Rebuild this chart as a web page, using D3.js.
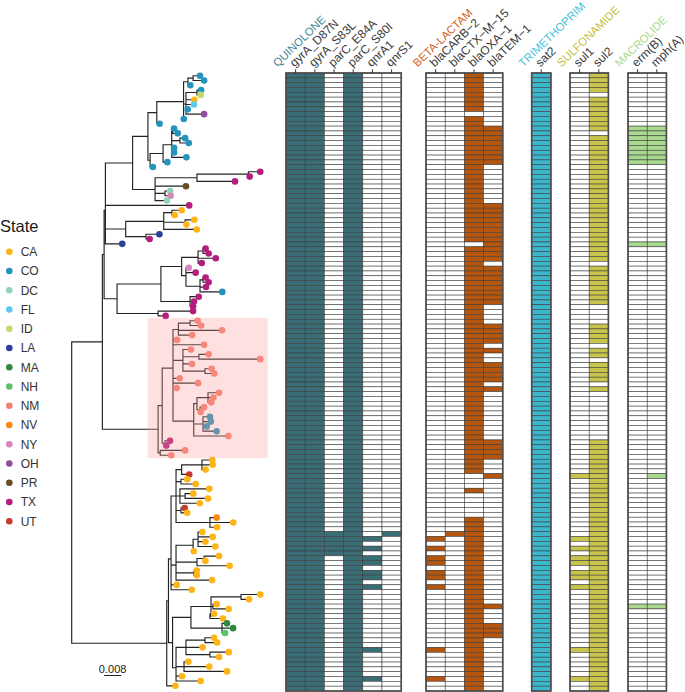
<!DOCTYPE html>
<html><head><meta charset="utf-8">
<script src="https://cdn.jsdelivr.net/npm/d3@7"></script>
<style>body{margin:0;background:#fff;} text{font-family:"Liberation Sans",Arial,Helvetica,sans-serif;}</style>
</head><body><svg id="c" width="685" height="692"></svg>
<script>
// ---------------- DATA ----------------
// Phylogeny; number after ':' = divergence from root (x 10^-3 substitutions/site)
const treeNewick = `
(
 (
  (
   (
    (
     (
      (
       (
        ((:59.4,:61.3):56.2,:54.9):53.8,
        ((:59.9,:59.7):58.0,:56.8,:56.6,:53.7,:61.3):52.9,
        :51.9
       ):51.8,
       :40.7
      ):39.4,
      ((((:47.4,:49.1):46.7,(:52.5,:54.2):50.1,(:47.4,:47.4):46.7,:53.1):46.3,:44.3):42.3,:37.6):36.3
     ):35.3,
     (((:87.3,:82.4):81.8,:75.6):58.0,:52.9,(:45.6,:45.8):43.2,:44.1):38.6
    ):28.2,
    :54.4,
    (((:50.9,:47.7):46.4,(:56.8,:53.1):52.5,:57.9):42.6,(:40.6,:36.1):34.4):25.0,
    :23.4
   ):15.6,
   (
    (
     (
      ((:62.0,:63.4):60.8,:66.7,:60.2):58.5,
      (:54.2,:57.4,((:62.0,:63.4):60.8,:62.2,:69.7):59.4):52.9
     ):50.9,
     (:58.8,:56.6,:56.2):54.8
    ):41.3,
    (:56.2,:43.5):40.0
   ):21.0
  ):15.0,
  (
   (
    (
     ((:58.3,:59.9):54.8,:69.6,:55.8):49.4,
     :48.8,:61.3,
     (:55.2,(:63.4,:87.3):58.9,:55.7,(:64.8,:66.0):61.7):51.5,
     :50.0,:58.5,:48.6,
     (((:68.2,:65.6,:64.6):63.1,(:61.3,:59.7):59.4):58.0,(:64.0,:64.4,:62.5,:67.1):60.8,:72.5):56.5
    ):46.9,
    (:45.5,:43.8):43.2
   ):41.9,
   (:52.5,:46.1):41.0
  ):40.0
 ):14.2,
 (
  (
   (
    (
     ((:65.1,:65.3,:62.0):60.3,:54.4):50.9,
     (:53.5,:57.4):50.6,
     (:63.7,(:56.3,:63.1):52.5,:59.3):50.1,
     (:52.3,:53.5):50.6,
     (:67.1,:74.8,:67.3):64.0
    ):48.3,
    (
     ((:60.5,:65.3,:61.9,:66.5):58.5,:56.5):56.2,
     ((:68.2,:61.9):61.3,:73.1):58.0,
     (:57.9,:57.9):56.6,
     :65.0
    ):48.3,
    :48.6,:55.6
   ):46.0,
   (
    (
     ((:87.3,:82.1):78.4,(:67.1,:72.7):65.4,(:65.9,:70.0):64.0):64.5,
     (:71.9,:74.7,:71.0):69.6
    ):55.2,
    (
     ((:65.9,:67.3):61.7,:60.6,(:72.7,:68.2):64.0):52.9,
     (:54.0,:63.7,:71.9):52.0,
     :51.1,:59.7
    ):48.3
   ):46.7
  ):44.8,
  :48.0
 ):44.0
):0;`;

// tip states in tree order (run-length: state, count)
const tipStateRuns = [
 ["CO",4],["ID",1],["CA",1],["FL",1],["CO",1],["OH",1],["CO",11],
 ["TX",3],["PR",1],["DC",1],["NY",1],["DC",1],["TX",1],
 ["CA",5],["LA",1],["TX",1],["LA",1],
 ["TX",4],["NY",1],["TX",4],["CO",1],["TX",5],
 ["NM",20],["CO",4],["NM",1],["TX",2],["NM",2],
 ["CA",3],["UT",1],["CA",6],["UT",1],["CA",1],["NV",1],["CA",21],["MA",2],["NH",1],["CA",11]
];

const stateNames  = ["CA","CO","DC","FL","ID","LA","MA","NH","NM","NV","NY","OH","PR","TX","UT"];
const stateColors = ["#FDB515","#2594BC","#8FD4B5","#5CCAF0","#C5DA6E","#2C3F9D","#2E8A3E","#5EC171","#F5806F","#F88B14","#D886BC","#8E4E9F","#6A4A1F","#B31E7D","#C23A2C"];

const highlightRows = [51, 79];   // NM clade
const scaleBarValue = 0.008;

// heatmap
const groupNames  = ["QUINOLONE","BETA-LACTAM","TRIMETHOPRIM","SULFONAMIDE","MACROLIDE"];
const groupFills  = ["#3A6E77","#B5560F","#3BB6CD","#C9C54C","#A9D98E"];
const groupTitleColors = ["#3E8591","#D0621C","#40C2DA","#C2BE3C","#A6DA8A"];
const groupGenes  = [
 ["gyrA_D87N","gyrA_S83L","parC_E84A","parC_S80I","qnrA1","qnrS1"],
 ["blaCARB\u22122","blaCTX\u2212M\u221215","blaOXA\u22121","blaTEM\u22121"],
 ["sat2"],
 ["sul1","sul2"],
 ["erm(B)","mph(A)"]
];
// presence as runs of rows [first,last]
const gyrA_D87N = [[0,127]];
const gyrA_S83L = [[0,127]];
const parC_E84A = [[95,99]];
const parC_S80I = [[0,127]];
const qnrA1     = [[96,96],[98,98],[100,101],[103,104],[106,106],[119,119],[125,125]];
const qnrS1     = [[95,95]];
const blaCARB2  = [[96,96],[98,98],[100,101],[103,104],[106,106],[119,119],[125,125]];
const blaCTXM15 = [[95,95]];
const blaOXA1   = [[0,7],[9,34],[36,82],[86,86],[92,127]];
const blaTEM1   = [[11,18],[27,38],[40,47],[52,55],[57,57],[60,63],[65,65],[76,79],[83,83],[110,110],[114,116]];
const sat2      = [[0,127]];
const sul1      = [[83,83],[96,96],[98,98],[100,101],[103,104],[106,106],[119,119],[125,125]];
const sul2      = [[0,3],[5,11],[13,38],[40,47],[52,55],[57,58],[60,63],[65,65],[76,127]];
const ermB      = [[11,18],[35,35],[110,110]];
const mphA      = [[11,18],[35,35],[83,83],[110,110]];
const groupPresence = [
 [gyrA_D87N,gyrA_S83L,parC_E84A,parC_S80I,qnrA1,qnrS1],
 [blaCARB2,blaCTXM15,blaOXA1,blaTEM1],
 [sat2],
 [sul1,sul2],
 [ermB,mphA]
];

// ---------------- LAYOUT ----------------
const nRows = 128;
const treeX0 = 71.7, pxPerUnit = 2.16;     // px per 1e-3
const blockLeft = [286, 426, 531.7, 570, 628];
const colW = 19.2;
const heatTop = 73, heatBottom = 691;
const labelAngle = -44, labelY = 67.5;

const svg = d3.select("#c");

// ---------------- TREE ----------------
function parseNewick(str){
  const s = str.replace(/\s+/g,"");
  let i = 0;
  function node(){
    const n = {children:[]};
    if (s[i] === "("){
      i++;
      n.children.push(node());
      while (s[i] === ","){ i++; n.children.push(node()); }
      i++; // ')'
    }
    while (i < s.length && !":,);".includes(s[i])) i++;
    if (s[i] === ":"){
      i++; const j = i;
      while (i < s.length && !",);".includes(s[i])) i++;
      n.dist = +s.slice(j, i);
    } else n.dist = 0;
    return n;
  }
  return node();
}
const root = parseNewick(treeNewick);

const tipStates = [];
tipStateRuns.forEach(([s,c]) => { for (let k=0;k<c;k++) tipStates.push(s); });
const stateColor = d3.scaleOrdinal().domain(stateNames).range(stateColors);

const xTree = d3.scaleLinear().domain([0, 1]).range([treeX0, treeX0 + pxPerUnit]);
const yTip  = d3.scaleLinear().domain([0, nRows-1]).range([75.7, 685.8]);
const yRow  = d3.scaleBand().domain(d3.range(nRows)).range([heatTop, heatBottom]);

const allNodes = [], tips = [];
let tipCounter = 0;
(function layout(n, parent){
  n.parent = parent; allNodes.push(n);
  n.x = xTree(n.dist);
  if (n.children.length === 0){ n.row = tipCounter++; n.y = yTip(n.row); tips.push(n); }
  else { n.children.forEach(c => layout(c, n)); n.y = d3.mean(n.children, c => c.y); }
})(root, null);

const gTree = svg.append("g");
const pathD = [];
allNodes.forEach(n => {
  if (n.parent) pathD.push(`M${n.parent.x},${n.y}H${n.x}`);
  if (n.children.length){
    const c0 = n.children[0], c1 = n.children[n.children.length-1];
    pathD.push(`M${n.x},${c0.y}V${c1.y}`);
  }
});
gTree.append("path").attr("d", pathD.join(""))
  .attr("fill","none").attr("stroke","#222").attr("stroke-width",1.15).attr("stroke-linecap","square");

gTree.selectAll("circle").data(tips).join("circle")
  .attr("cx", d => d.x).attr("cy", d => d.y).attr("r", 3.3)
  .attr("fill", d => stateColor(tipStates[d.row]));

// highlight of NM clade (drawn over the tree, translucent)
svg.append("rect")
  .attr("x", 147.7).attr("width", 120)
  .attr("y", yTip(highlightRows[0]) - 2.8)
  .attr("height", yTip(highlightRows[1]) - yTip(highlightRows[0]) + 5.6)
  .attr("fill", "#F89794").attr("fill-opacity", 0.3);

// scale bar
const sbX = 104, sbY = 675.5;
const sbLen = xTree(scaleBarValue*1000) - xTree(0);
svg.append("line").attr("x1", sbX).attr("x2", sbX + sbLen)
  .attr("y1", sbY).attr("y2", sbY).attr("stroke","#222").attr("stroke-width",1);
svg.append("text").attr("x", sbX + sbLen/2).attr("y", 672.5)
  .attr("text-anchor","middle").attr("font-size", 11).attr("fill","#222").text(String(scaleBarValue));

// legend
svg.append("text").attr("x", 0).attr("y", 232).attr("font-size", 16.5).attr("fill","#1a1a1a").text("State");
const lg = svg.append("g").selectAll("g").data(stateNames).join("g")
  .attr("transform", (d,i) => `translate(0,${251.7 + i*19.25})`);
lg.append("circle").attr("cx", 9.3).attr("cy", 0).attr("r", 3.3).attr("fill", d => stateColor(d));
lg.append("text").attr("x", 20.7).attr("y", 0).attr("dy","0.36em").attr("font-size", 12).attr("fill","#333").text(d => d);

// ---------------- HEATMAP ----------------
const gHeat = svg.append("g");
groupNames.forEach((gname, gi) => {
  const genes = groupGenes[gi];
  const xb = d3.scaleBand().domain(genes).range([blockLeft[gi], blockLeft[gi] + genes.length*colW]);
  const cells = [];
  genes.forEach((gene, j) => {
    const present = new Array(nRows).fill(false);
    groupPresence[gi][j].forEach(([a,b]) => { for (let r=a;r<=b;r++) present[r] = true; });
    for (let r=0;r<nRows;r++) cells.push({gene, r, on: present[r]});
  });
  const g = gHeat.append("g");
  g.selectAll("rect.cell").data(cells).join("rect").attr("class","cell")
    .attr("x", d => xb(d.gene)).attr("width", xb.bandwidth())
    .attr("y", d => yRow(d.r)).attr("height", yRow.bandwidth())
    .attr("fill", d => d.on ? groupFills[gi] : "#ffffff")
    .attr("stroke", "#3a3a3a").attr("stroke-width", 0.55);
  g.append("rect").attr("x", blockLeft[gi]).attr("y", heatTop)
    .attr("width", genes.length*colW).attr("height", heatBottom-heatTop)
    .attr("fill","none").attr("stroke","#4d4d4d").attr("stroke-width",1.7);
  // ticks
  g.selectAll("line.tick").data(genes).join("line").attr("class","tick")
    .attr("x1", d => xb(d) + xb.bandwidth()/2).attr("x2", d => xb(d) + xb.bandwidth()/2)
    .attr("y1", 69.3).attr("y2", heatTop).attr("stroke","#333").attr("stroke-width",1);
  // column labels
  g.selectAll("text.col").data(genes).join("text").attr("class","col")
    .attr("transform", d => `translate(${xb(d) + xb.bandwidth()/2 - 1},${labelY}) rotate(${labelAngle})`)
    .attr("font-size", 12).attr("fill","#3a3a3a").text(d => d);
  // group title
  const fx = xb(genes[0]) + xb.bandwidth()/2 - 18;
  g.append("text").attr("transform", `translate(${fx},${labelY}) rotate(${labelAngle})`)
    .attr("font-size", 11.3).attr("fill", groupTitleColors[gi]).text(gname);
});
</script>
</body></html>
